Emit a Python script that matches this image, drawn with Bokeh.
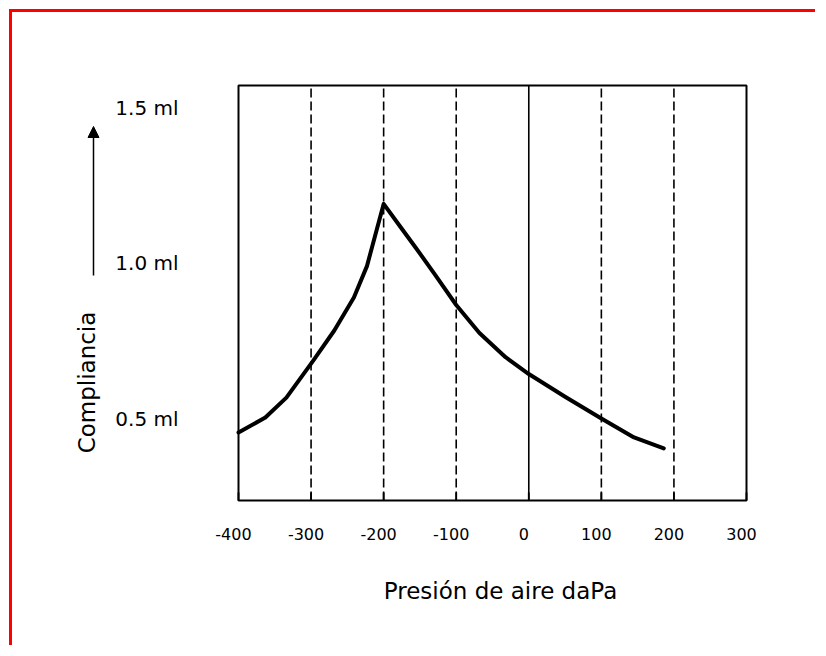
from bokeh.plotting import figure
from bokeh.models import Label, Arrow, NormalHead, Range1d
from bokeh.core.properties import value
from bokeh.embed import file_html
from bokeh.resources import INLINE
import math

# ---- data ----
pressure = [-400, -363, -334, -297, -268, -241, -223, -200, -175, -156, -129, -100, -68, -32, 0, 50, 100, 145, 186]
compliance = [0.455, 0.503, 0.567, 0.686, 0.783, 0.889, 0.99, 1.19, 1.11, 1.05, 0.962, 0.865, 0.775, 0.697, 0.643, 0.57, 0.50, 0.439, 0.404]

x_ticks = [-400, -300, -200, -100, 0, 100, 200, 300]
x_tick_labels = ["-400", "-300", "-200", "-100", "0", "100", "200", "300"]
dashed_grid = [-300, -200, -100, 100, 200]
solid_grid = [0]
y_ticks = [0.5, 1.0, 1.5]
y_tick_labels = ["0.5 ml", "1.0 ml", "1.5 ml"]
x_title = "Presión de aire daPa"
y_title = "Compliancia"

FONT = "DejaVu Sans"

# ---- layout (page pixels) ----
W, H = 806, 636
FRAME_L, FRAME_T, FRAME_R, FRAME_B = 20, 20, 806, 640     # page px of the drawing frame
BOX_L, BOX_R, BOX_T, BOX_B = 238, 746, 85, 500            # page px of the chart box
KX = (BOX_R - BOX_L) / (x_ticks[-1] - x_ticks[0])         # px per daPa
KY = 311.0                                                # px per ml
Y_REF_PX = 107                                            # page px of 1.5 ml

x_start = x_ticks[0] - (BOX_L - FRAME_L) / KX
x_end = x_start + (FRAME_R - FRAME_L) / KX
y_end = y_ticks[-1] + (Y_REF_PX - FRAME_T) / KY
y_start = y_end - (FRAME_B - FRAME_T) / KY

def px_x(px):
    return x_start + (px - FRAME_L) / KX

def px_y(py):
    return y_end - (py - FRAME_T) / KY

Y_BOX_MIN, Y_BOX_MAX = px_y(BOX_B), px_y(BOX_T)
X_BOX_MIN, X_BOX_MAX = x_ticks[0], x_ticks[-1]

p = figure(width=W, height=H, output_backend="svg", toolbar_location=None,
           x_range=Range1d(x_start, x_end), y_range=Range1d(y_start, y_end),
           min_border_left=8, min_border_right=12, min_border_top=8, min_border_bottom=8,
           background_fill_color="white", border_fill_color="white",
           margin=(9, 0, 0, 9),
           styles={"border-top": "3px solid #ff0000", "border-left": "3px solid #ff0000"})
p.outline_line_color = None
p.grid.visible = False
p.axis.visible = False

# vertical grid lines
p.segment(x0=dashed_grid, y0=[Y_BOX_MIN] * len(dashed_grid), x1=dashed_grid, y1=[Y_BOX_MAX] * len(dashed_grid),
          line_color="black", line_width=1.6, line_dash="9 4")
p.segment(x0=solid_grid, y0=[Y_BOX_MIN] * len(solid_grid), x1=solid_grid, y1=[Y_BOX_MAX] * len(solid_grid),
          line_color="black", line_width=1.6)

# tick marks (inside, bottom)
tick_len = 8 / KY
p.segment(x0=x_ticks, y0=[Y_BOX_MIN] * len(x_ticks), x1=x_ticks, y1=[Y_BOX_MIN + tick_len] * len(x_ticks),
          line_color="black", line_width=1.8)

# chart box
p.quad(left=[X_BOX_MIN], right=[X_BOX_MAX], bottom=[Y_BOX_MIN], top=[Y_BOX_MAX],
       fill_color=None, line_color="black", line_width=2)

# curve
p.line(pressure, compliance, line_width=4, line_color="black", line_join="round", line_cap="round")

# x tick labels
p.text(x=x_ticks, y=[Y_BOX_MIN] * len(x_ticks), text=x_tick_labels,
       x_offset=-5, y_offset=33, text_align="center", text_baseline="middle",
       text_font=value(FONT), text_font_size="16px", text_color="black")

# y tick labels
p.text(x=[X_BOX_MIN] * len(y_ticks), y=y_ticks, text=y_tick_labels,
       x_offset=-60, text_align="right", text_baseline="middle",
       text_font=value(FONT), text_font_size="20px", text_color="black")

# axis titles
p.add_layout(Label(x=px_x(500), y=px_y(590), text=x_title,
                   text_align="center", text_baseline="middle",
                   text_font=FONT, text_font_size="23px", text_color="black"))
p.add_layout(Label(x=px_x(86), y=px_y(382), text=y_title, angle=math.pi / 2,
                   text_align="center", text_baseline="middle",
                   text_font=FONT, text_font_size="23px", text_color="black"))

# arrow
p.add_layout(Arrow(x_start=px_x(93), y_start=px_y(275), x_end=px_x(93), y_end=px_y(126),
                   line_color="black", line_width=1.5,
                   end=NormalHead(size=11, fill_color="black", line_color="black")))

open("out.html", "w").write(file_html(p, INLINE))
